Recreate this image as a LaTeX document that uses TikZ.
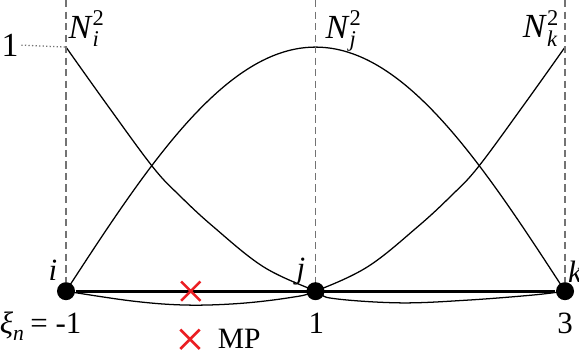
\documentclass[tikz,border=0pt]{standalone}
\usepackage{amsmath}
\usepackage{fontspec}
\setmainfont{LiberationSerif}[Extension=.ttf, UprightFont=*-Regular, ItalicFont=*-Italic, BoldFont=*-Bold, BoldItalicFont=*-BoldItalic]
\usepackage{tikz}
\usetikzlibrary{positioning,shapes.misc}
\definecolor{mpRed}{RGB}{235,30,35}
\definecolor{guideGray}{RGB}{115,115,115}

\begin{document}
\begin{tikzpicture}[x=1.559cm, y=3.05cm,
  dof/.style={circle, fill=black, inner sep=0pt, minimum size=0.225cm},
  guide/.style={guideGray, dash pattern=on 2.6pt off 1.5pt, line width=0.45pt},
  nfun/.style={line width=0.45pt},
  mpmark/.style={cross out, draw=mpRed, line width=0.9pt, inner sep=0pt, minimum size=0.21cm},
  lbl/.style={inner sep=0pt, font=\fontsize{11}{13}\selectfont},
  big/.style={inner sep=0pt, font=\fontsize{12}{14}\selectfont}]
  \useasboundingbox (-1.529,-0.262) rectangle (3.112,1.193);

  % Top ends of the guides
  \coordinate (ti) at (-1,1.193);
  \coordinate (tj) at (1,1.193);
  \coordinate (tk) at (3,1.193);
  \coordinate (peak) at (-1,1);

  % Shape functions
  \draw[nfun] plot[smooth, tension=0.6] coordinates {(-1,1) (-0.674,0.766) (-0.303,0.508)
    (-0.086,0.39) (0.181,0.264) (0.582,0.1) (1,0) (1.143,-0.03) (1.677,-0.048)
    (2.21,-0.037) (2.74,-0.016) (3,0)};
  \draw[nfun] plot[domain=-1:3, samples=80, smooth] (\x, {sin(45*(\x+1))});
  \draw[nfun] plot[smooth, tension=0.6] coordinates {(-1,0) (-0.46,-0.041) (-0.03,-0.057)
    (0.4,-0.05) (0.8,-0.026) (1,0) (1.418,0.1) (1.819,0.264) (2.086,0.39)
    (2.303,0.508) (2.674,0.766) (3,1)};

  % Nodes
  \node[dof] (i) at (-1,0) {};
  \node[dof] (j) at (1,0) {};
  \node[dof] (k) at (3,0) {};
  \draw[line width=1pt] (i) -- (k);
  \draw[guide] (ti) -- (i);
  \draw[guide] (tj) -- (j);
  \draw[guide] (tk) -- (k);

  % Material point
  \node[mpmark] (mp) at (0,0) {};
  \node[mpmark] (mpkey) at (-0.006,-0.197) {};
  \node[lbl, font=\fontsize{10.5}{12}\selectfont, right=0.22cm of mpkey] (mptext) {MP};

  % Labels
  \node[big, anchor=east] (one) at (-1.377,1.008) {1};
  \draw[guideGray, dash pattern=on 0.45pt off 0.8pt, line width=0.45pt] (one.east) ++(0.02,0) -- (peak);
  \node[big, anchor=base west] (Ni) at (-0.984,1.037) {\textit{N}$^{\textup{2}}_{\textit{i}}$};
  \node[big, anchor=base west] (Nj) at (1.076,1.037) {\textit{N}$^{\textup{2}}_{\textit{j}}$};
  \node[big, anchor=base east] (Nk) at (2.962,1.04) {\textit{N}$^{\textup{2}}_{\textit{k}}$};
  \node[lbl, anchor=base] (li) at (-1.104,0.045) {\textit{i}};
  \node[lbl, anchor=base] (lj) at (0.884,0.05) {\textit{j}};
  \node[lbl, anchor=base west] (lk) at (3.02,0.035) {\textit{k}};
  \node[lbl, anchor=base east] (xi) at (-0.872,-0.172) {$\textit{ξ}_{\textit{n}}$\,=\ -1};
  \node[lbl, anchor=base] (xj) at (1.006,-0.172) {1};
  \node[lbl, anchor=base] (xk) at (3,-0.172) {3};
\end{tikzpicture}
\end{document}
